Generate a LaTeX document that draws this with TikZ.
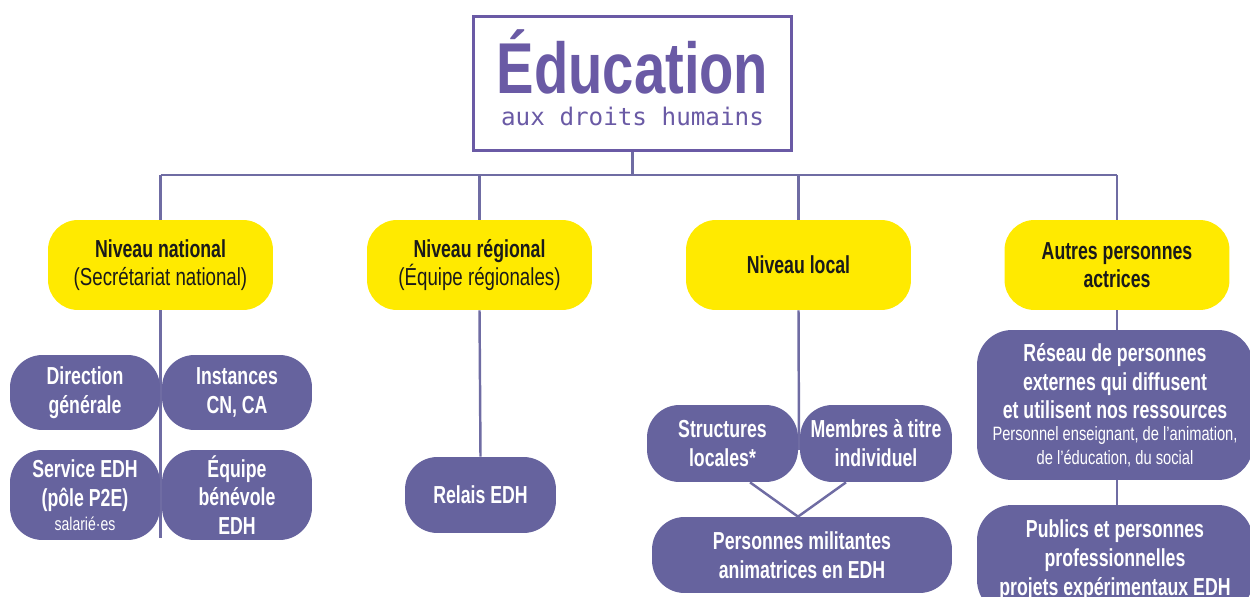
\documentclass[tikz,border=0pt]{standalone}
\usepackage{fontspec}
\setmainfont{Liberation Sans}[FakeStretch=0.76, BoldFeatures={FakeStretch=0.72}]
\newfontfamily\titlefont{Liberation Sans}[FakeStretch=0.78]
\newfontfamily\monofont{DejaVu Sans Mono}
\usetikzlibrary{backgrounds}
\definecolor{violet}{HTML}{6A5AA5}
\definecolor{boxcol}{HTML}{66639E}
\definecolor{linecol}{HTML}{6F6CA3}
\definecolor{yelcol}{HTML}{FFEA00}
\definecolor{txtdark}{HTML}{1A1A1A}
\tikzset{
  yel/.style={fill=yelcol, rounded corners=0.6cm, minimum width=4.5cm, minimum height=1.8cm,
    inner sep=0pt, align=center, text=txtdark, font=\fontsize{14}{16.2}\selectfont},
  pbox/.style={fill=boxcol, rounded corners=0.65cm, inner sep=0pt, align=center, text=white,
    font=\fontsize{14}{16.4}\selectfont\bfseries},
  conn/.style={draw=linecol, line width=1.4pt}
}
\begin{document}
\begin{tikzpicture}[x=0.02cm,y=-0.02cm]
\useasboundingbox (0,0) rectangle (1250,597);
\clip (0,0) rectangle (1250,597);
% title
\node[draw=violet, line width=1.7pt, fill=white, minimum width=6.38cm, minimum height=2.7cm, inner sep=0pt] (title) at (632.5,83.5) {};
\node[anchor=base, text=violet, inner sep=0pt, font=\titlefont\fontsize{41}{41}\selectfont\bfseries] (titletxt) at (632.5,94) {Éducation};
\node[anchor=base, text=violet, inner sep=0pt, font=\monofont\fontsize{13.8}{16}\selectfont] (subtxt) at (632.5,126) {aux droits humains};
% levels
\node[yel] (nat) at (160.5,265) {\textbf{Niveau national}\\(Secrétariat national)};
\node[yel] (reg) at (479.5,265) {\textbf{Niveau régional}\\(Équipe régionales)};
\node[yel] (loc) at (798.5,265) {\textbf{Niveau local}};
\node[yel] (aut) at (1117,265) {\textbf{Autres personnes}\\\textbf{actrices}};
% national
\node[pbox, minimum width=3cm, minimum height=1.5cm] (dir) at (85,392.5) {Direction\\générale};
\node[pbox, minimum width=3cm, minimum height=1.5cm] (inst) at (237,392.5) {Instances\\CN, CA};
\node[pbox, minimum width=3cm, minimum height=1.8cm] (serv) at (85,495) {Service EDH\\(pôle P2E)\\[-3pt]{\fontsize{10.5}{12}\selectfont\mdseries salarié·es}};
\node[pbox, minimum width=3cm, minimum height=1.8cm] (equ) at (237,495) {Équipe\\bénévole\\EDH};
% regional
\node[pbox, minimum width=3.02cm, minimum height=1.52cm] (relais) at (480.5,495) {Relais EDH};
% local
\node[pbox, minimum width=3.02cm, minimum height=1.54cm] (struct) at (722.5,443.5) {Structures\\locales*};
\node[pbox, minimum width=3.04cm, minimum height=1.54cm] (memb) at (876,443.5) {Membres à titre\\individuel};
\node[pbox, minimum width=6cm, minimum height=1.52cm] (pers) at (802,555) {Personnes militantes\\animatrices en EDH};
% autres
\node[pbox, minimum width=5.52cm, minimum height=3cm, rounded corners=0.7cm] (reseau) at (1115,405)
  {Réseau de personnes\\externes qui diffusent\\et utilisent nos ressources\\[-4pt]
   {\fontsize{11}{13}\selectfont\mdseries Personnel enseignant, de l’animation,}\\[-3pt]
   {\fontsize{11}{13}\selectfont\mdseries de l’éducation, du social}};
\node[pbox, minimum width=5.52cm, minimum height=2.2cm, rounded corners=0.7cm] (publics) at (1115,560)
  {Publics et personnes\\professionnelles\\projets expérimentaux EDH};
% connectors
\coordinate (hub) at (632.5,175);
\coordinate (jn) at (160.5,175);
\coordinate (ja) at (1117,175);
\coordinate (natend) at (160.5,538);
\coordinate (locend) at (799,450);
\begin{scope}[on background layer]
\draw[conn] (title.south) -- (hub);
\draw[conn] (jn) -- (ja);
\draw[conn] (jn) -- (nat.north);
\draw[conn] (reg.north |- hub) -- (reg.north);
\draw[conn] (loc.north |- hub) -- (loc.north);
\draw[conn] (ja) -- (aut.north);
\draw[conn] (nat.south) -- (natend);
\draw[conn] (reg.south) -- (relais.north);
\draw[conn] (loc.south) -- (locend);
\draw[conn] (aut.south) -- (aut.south |- reseau.north);
\draw[conn] (reseau.south -| aut.south) -- (publics.north -| aut.south);
\draw[conn] ([xshift=0.55cm]struct.south) -- ([xshift=-0.08cm]pers.north);
\draw[conn] ([xshift=-0.6cm]memb.south) -- ([xshift=-0.08cm]pers.north);
\end{scope}
\end{tikzpicture}
\end{document}
